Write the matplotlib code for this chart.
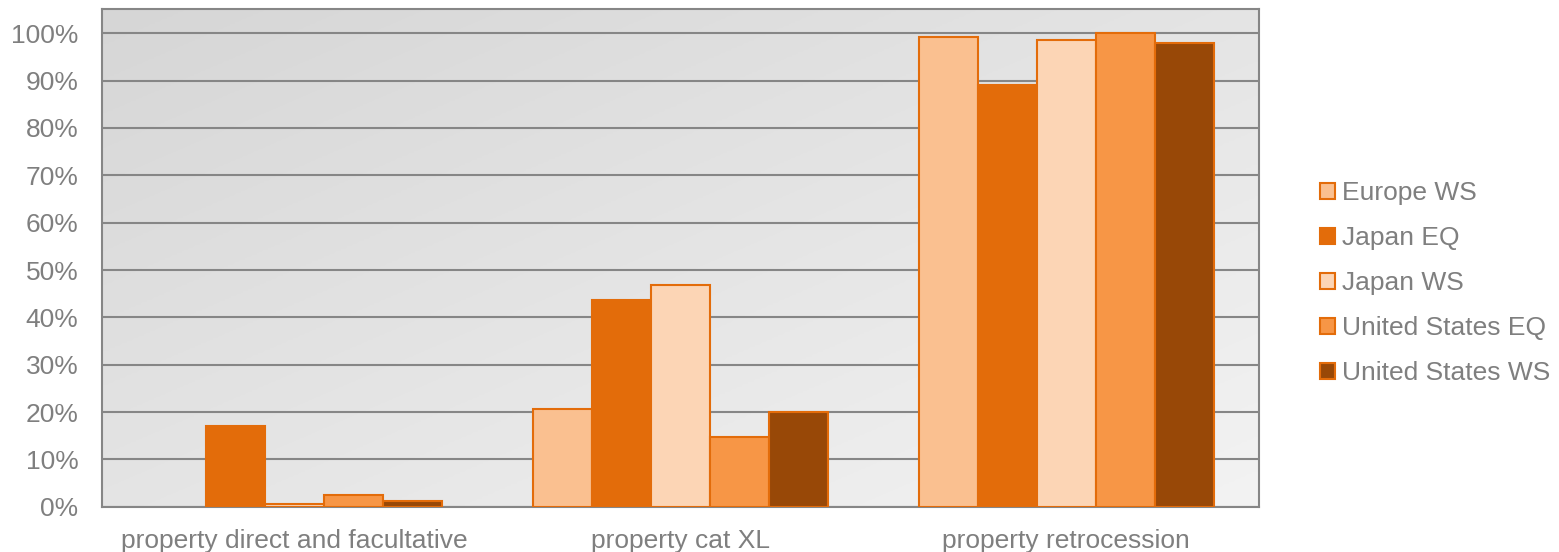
import numpy as np
import matplotlib.pyplot as plt
from matplotlib.patches import Patch
from matplotlib.colors import LinearSegmentedColormap

plt.rcParams['font.family'] = ['Liberation Sans', 'DejaVu Sans']

categories = ["property direct and facultative", "property cat XL", "property retrocession"]
series = ["Europe WS", "Japan EQ", "Japan WS", "United States EQ", "United States WS"]
europe_ws = [0.0, 20.7, 99.2]
japan_eq = [17.1, 43.7, 89.0]
japan_ws = [0.6, 46.9, 98.5]
us_eq = [2.6, 14.8, 100.0]
us_ws = [1.2, 20.1, 98.0]
values = [europe_ws, japan_eq, japan_ws, us_eq, us_ws]
colors = ["#FAC090", "#E36C0A", "#FCD5B5", "#F79646", "#984807"]
edge = "#E36C0A"
grey = "#868686"
text_col = "#7F7F7F"

fig = plt.figure(figsize=(15.59, 5.52), dpi=100)
ax = fig.add_axes([0.0654, 0.0818, 0.7421, 0.9010])

# gradient background: darker top-left, lighter bottom-right
xx, yy = np.meshgrid(np.linspace(0, 1, 200), np.linspace(0, 1, 200))
grad = (xx + yy) / 2
cmap = LinearSegmentedColormap.from_list("bg", ["#D6D6D6", "#F3F3F3"])
ax.imshow(grad, extent=[0, 1, 0, 1], transform=ax.transAxes, cmap=cmap,
          aspect='auto', zorder=0, origin='upper')

x = np.arange(len(categories))
w = 0.153
for i, (name, vals) in enumerate(zip(series, values)):
    bars = ax.bar(x + (i - 2) * w, vals, w, color=colors[i], edgecolor=edge,
                  linewidth=1.5, zorder=3, label=name)
    for b, v in zip(bars, vals):
        if v == 0:
            b.set_linewidth(0)

ax.set_xlim(-0.5, 2.5)
ax.set_ylim(0, 105)
ax.set_yticks(np.arange(0, 101, 10))
ax.set_yticklabels([f"{v}%" for v in range(0, 101, 10)])
ax.set_xticks(x)
ax.set_xticklabels(categories)
ax.yaxis.grid(True, color=grey, linewidth=1.5, zorder=1)
ax.set_axisbelow(True)
for s in ax.spines.values():
    s.set_color(grey)
    s.set_linewidth(1.5)
ax.tick_params(axis='both', length=0, labelsize=19, colors=text_col)
ax.tick_params(axis='y', pad=17)
ax.tick_params(axis='x', pad=16)

handles = [Patch(facecolor=c, edgecolor=edge, linewidth=1.5) for c in colors]
fig.legend(handles, series, loc='center left', bbox_to_anchor=(0.8385, 0.487),
           frameon=False, fontsize=19, labelcolor=text_col, handlelength=0.55,
           handleheight=0.55, handletextpad=0.25, labelspacing=0.8, borderpad=0)

fig.savefig("out.png", dpi=100)
